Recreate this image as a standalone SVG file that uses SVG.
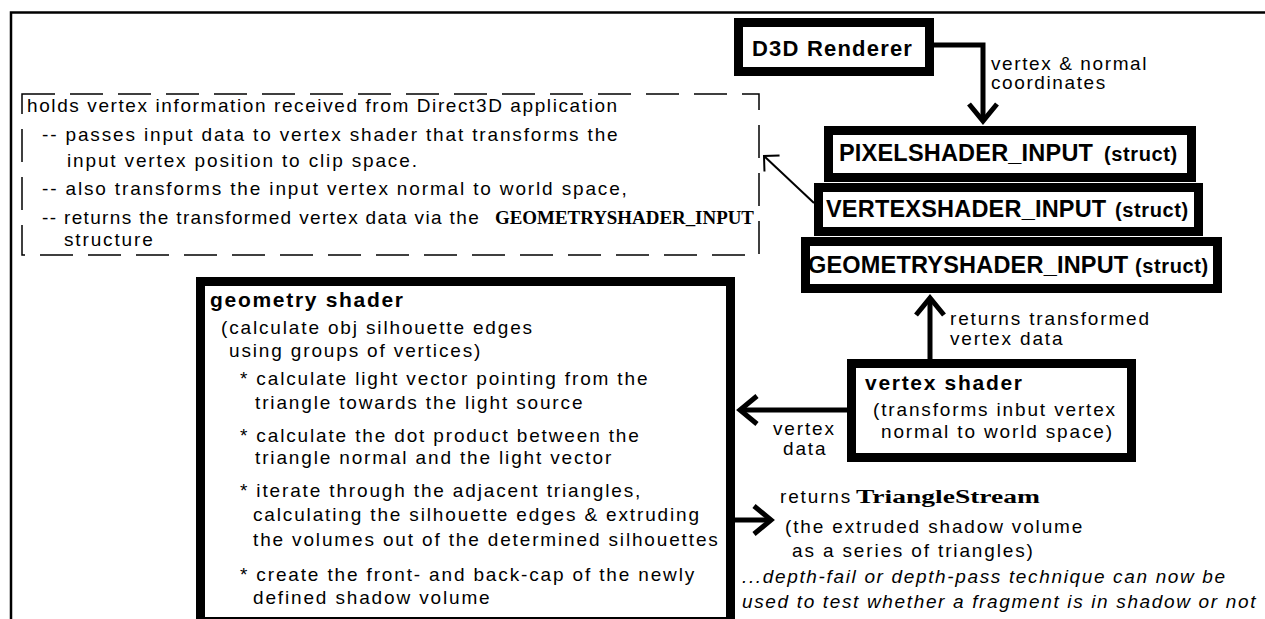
<svg xmlns="http://www.w3.org/2000/svg" width="1265" height="619" viewBox="0 0 1265 619">
<style>
text{font-family:"Liberation Sans",Arial,sans-serif;fill:#000}
.t{font-size:19px;letter-spacing:1.85px}
.it{font-size:19px;letter-spacing:1.65px;font-style:italic}
.mono{font-family:"Liberation Serif","Times New Roman",serif;font-weight:bold;font-size:18px;letter-spacing:0}
.hb{font-size:21px;font-weight:bold;letter-spacing:1.7px}
.sb{font-size:23.5px;font-weight:bold;letter-spacing:0.2px}
.st{font-size:20px;font-weight:bold;letter-spacing:0.6px}
.box{fill:#fff;stroke:#000;stroke-width:9}
.thick{fill:none;stroke:#000;stroke-width:5}
.thin{fill:none;stroke:#000;stroke-width:2}
.dash{fill:none;stroke:#000;stroke-width:1.5;stroke-dasharray:33 15}
</style>
<defs>
<marker id="chev" viewBox="-22 -18 26 36" markerWidth="26" markerHeight="36" refX="0" refY="0" orient="auto" markerUnits="userSpaceOnUse">
<path d="M-17,-14 L0,0 L-17,14" fill="none" stroke="#000" stroke-width="5"/>
</marker>
<marker id="chevThin" viewBox="-14 -14 16 28" markerWidth="16" markerHeight="28" refX="0" refY="0" orient="auto" markerUnits="userSpaceOnUse">
<path d="M-11,-11 L0,0 L-11,11" fill="none" stroke="#000" stroke-width="2"/>
</marker>
</defs>
<rect width="1265" height="619" fill="#fff"/>
<path d="M11,619 V12.5 H1265" fill="none" stroke="#000" stroke-width="2.5"/>

<g id="note">
<rect class="dash" x="22" y="94" width="737" height="161"/>
<text class="t" x="27" y="112" style="letter-spacing:1.6px">holds vertex information received from Direct3D application</text>
<text class="t" x="42" y="141">-- passes input data to vertex shader that transforms the</text>
<text class="t" x="67" y="167">input vertex position to clip space.</text>
<text class="t" x="42" y="195">-- also transforms the input vertex normal to world space,</text>
<text class="t" x="42" y="224" style="letter-spacing:1.35px">-- returns the transformed vertex data via the <tspan class="mono" x="495" textLength="259" lengthAdjust="spacingAndGlyphs">GEOMETRYSHADER_INPUT</tspan></text>
<text class="t" x="64" y="246">structure</text>
</g>

<g id="d3d-renderer">
<rect class="box" x="738.5" y="22.5" width="191" height="49"/>
<text x="752" y="56" style="font-size:22px;font-weight:bold;letter-spacing:1.2px">D3D Renderer</text>
</g>

<g id="pixelshader-input">
<rect class="box" x="828.5" y="130.5" width="363" height="47"/>
<text class="sb" x="839" y="161">PIXELSHADER_INPUT <tspan class="st" x="1104">(struct)</tspan></text>
</g>

<g id="vertexshader-input">
<rect class="box" x="818.5" y="187.5" width="380" height="44"/>
<text class="sb" x="826" y="217">VERTEXSHADER_INPUT <tspan class="st" x="1115">(struct)</tspan></text>
</g>

<g id="geometryshader-input">
<rect class="box" x="805.5" y="241.5" width="412" height="47"/>
<text class="sb" x="808" y="273">GEOMETRYSHADER_INPUT <tspan class="st" x="1135">(struct)</tspan></text>
</g>

<g id="geometry-shader">
<rect class="box" x="200.5" y="281.5" width="530" height="340"/>
<text class="hb" x="210" y="307">geometry shader</text>
<text class="t" x="221" y="334">(calculate obj silhouette edges</text>
<text class="t" x="229" y="357">using groups of vertices)</text>
<text class="t" x="240" y="385">* calculate light vector pointing from the</text>
<text class="t" x="255" y="409">triangle towards the light source</text>
<text class="t" x="240" y="442">* calculate the dot product between the</text>
<text class="t" x="255" y="464">triangle normal and the light vector</text>
<text class="t" x="240" y="497">* iterate through the adjacent triangles,</text>
<text class="t" x="253" y="521">calculating the silhouette edges &amp; extruding</text>
<text class="t" x="253" y="546">the volumes out of the determined silhouettes</text>
<text class="t" x="240" y="581">* create the front- and back-cap of the newly</text>
<text class="t" x="253" y="604">defined shadow volume</text>
</g>

<g id="vertex-shader">
<rect class="box" x="851.5" y="363.5" width="280" height="94"/>
<text class="hb" x="865" y="390">vertex shader</text>
<text class="t" x="873" y="416">(transforms inbut vertex</text>
<text class="t" x="881" y="438">normal to world space)</text>
</g>

<g id="connectors">
<path class="thick" d="M934,45 H983 V121" marker-end="url(#chev)"/>
<path class="thin" d="M814,203 L764,156" marker-end="url(#chevThin)"/>
<path class="thick" d="M930,359 V298" marker-end="url(#chev)"/>
<path class="thick" d="M847,410 H740" marker-end="url(#chev)"/>
<path class="thick" d="M735,520 H771" marker-end="url(#chev)"/>
</g>

<g id="connector-labels">
<text class="t" x="991" y="70" style="letter-spacing:1.6px">vertex &amp; normal</text>
<text class="t" x="991" y="89" style="letter-spacing:1.6px">coordinates</text>
<text class="t" x="950" y="325">returns transformed</text>
<text class="t" x="950" y="345">vertex data</text>
<text class="t" x="773" y="435">vertex</text>
<text class="t" x="783" y="455">data</text>
<text class="t" x="780" y="503">returns <tspan class="mono" x="856" textLength="184" lengthAdjust="spacingAndGlyphs">TriangleStream</tspan></text>
<text class="t" x="785" y="533">(the extruded shadow volume</text>
<text class="t" x="792" y="557">as a series of triangles)</text>
<text class="it" x="742" y="583">...depth-fail or depth-pass technique can now be</text>
<text class="it" x="742" y="608">used to test whether a fragment is in shadow or not</text>
</g>
</svg>
